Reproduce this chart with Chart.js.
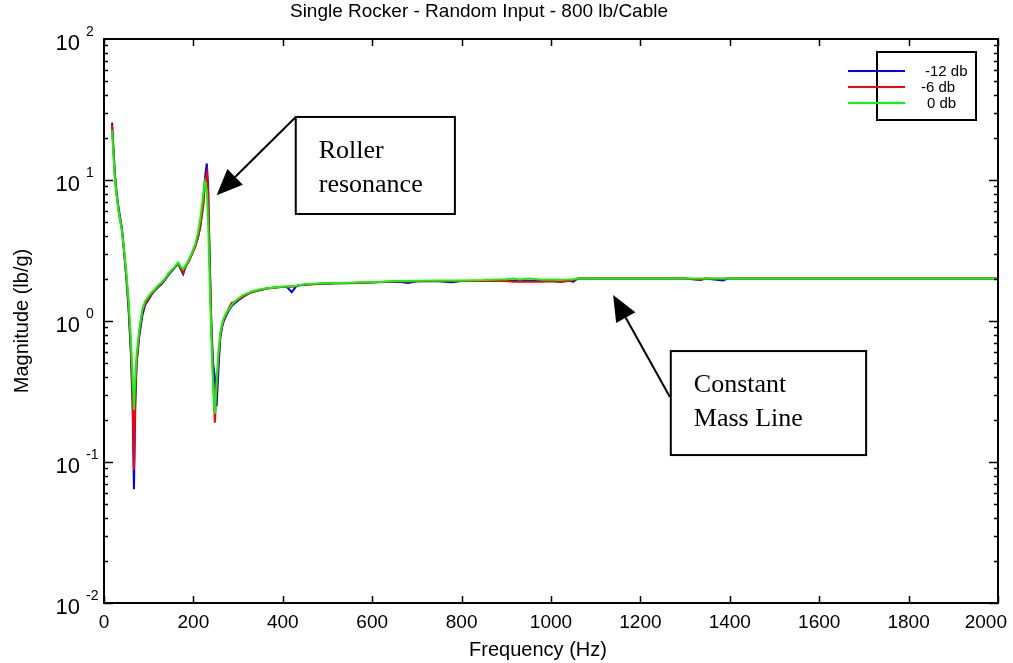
<!DOCTYPE html>
<html><head><meta charset="utf-8">
<script src="https://cdn.jsdelivr.net/npm/chart.js@4"></script>
<style>html,body{margin:0;padding:0;background:#fff}#wrap{width:1013px;height:663px}</style>
</head><body><div id="wrap"><canvas id="c" width="1013" height="663"></canvas></div>
<script>
const chartTitle = "Single Rocker - Random Input - 800 lb/Cable";
const xTitle = "Frequency (Hz)";
const yTitle = "Magnitude (lb/g)";
const seriesLabels = ["-12 db", "-6 db", "0 db"];
const seriesColors = ["#0000ff", "#ff0000", "#00ff00"];
const xTickValues = [0,200,400,600,800,1000,1200,1400,1600,1800,2000];
const yExponents = [2, 1, 0, -1, -2];

const freq = [18,24,28,33,40,44,50,55,60,64,67,70,73,79,86,92,100,107,115,122,129,136,143,151,158,166,171,177,183,189,196,204,210,215,219,222,226,230,233,236,240,244,248,252,256,260,264,268,274,280,286,293,300,308,316,323,330,340,350,364,380,395,409,420,430,438,450,470,490,520,550,580,620,660,680,700,740,778,800,850,900,915,930,950,980,1000,1020,1040,1050,1060,1100,1150,1200,1300,1335,1345,1385,1395,1450,1500,1600,1700,1800,1900,2000];

const minus12db = [25.5,11.5,8.2,6.2,4.6,3.4,2.0,1.2,0.6,0.25,0.064,0.25,0.5,0.78,1.1,1.3,1.42,1.55,1.66,1.75,1.83,1.95,2.1,2.25,2.38,2.55,2.35,2.15,2.45,2.65,2.95,3.4,3.9,4.6,5.8,6.8,10.5,13.1,9,3.2,1.0,0.5,0.4,0.25,0.45,0.75,0.9,1.0,1.1,1.2,1.28,1.34,1.4,1.46,1.52,1.56,1.6,1.63,1.66,1.7,1.72,1.74,1.75,1.6,1.76,1.79,1.81,1.83,1.84,1.85,1.86,1.87,1.89,1.9,1.86,1.91,1.92,1.88,1.92,1.92,1.93,1.93,1.93,1.93,1.93,1.93,1.9,1.93,1.9,2.0,2.0,2.0,2.0,2.0,1.95,2.0,1.94,2.0,2.0,2.0,2.0,2.0,2.0,2.0,2.0];
const minus6db = [24.5,11,8,6,4.4,3.3,2.1,1.3,0.65,0.3,0.088,0.3,0.52,0.82,1.18,1.32,1.45,1.57,1.68,1.77,1.85,1.97,2.12,2.28,2.4,2.57,2.4,2.2,2.45,2.62,2.95,3.35,3.9,4.6,5.6,6.5,9.5,11.1,8,3,0.95,0.4,0.19,0.33,0.55,0.78,0.92,1.02,1.12,1.25,1.35,1.36,1.42,1.47,1.52,1.57,1.6,1.63,1.66,1.7,1.72,1.74,1.75,1.75,1.77,1.8,1.81,1.82,1.84,1.85,1.85,1.87,1.89,1.91,1.9,1.91,1.92,1.92,1.92,1.92,1.92,1.9,1.9,1.9,1.9,1.91,1.9,1.92,1.95,2.0,2.0,2.0,2.0,2.0,1.96,2.0,1.99,2.0,2.0,2.0,2.0,2.0,2.0,2.0,2.0];
const zerodb = [22.5,10.5,7.8,5.9,4.4,3.4,2.2,1.4,0.75,0.4,0.234,0.4,0.58,0.88,1.22,1.38,1.5,1.6,1.7,1.8,1.88,2.0,2.15,2.3,2.42,2.6,2.45,2.33,2.5,2.7,3.0,3.5,4.2,5.2,6.6,8.0,9.7,8.5,5,2.2,0.8,0.35,0.22,0.38,0.6,0.82,0.95,1.05,1.15,1.22,1.3,1.38,1.44,1.5,1.55,1.58,1.62,1.65,1.68,1.71,1.73,1.75,1.76,1.77,1.78,1.8,1.82,1.84,1.85,1.86,1.87,1.88,1.9,1.92,1.92,1.93,1.94,1.94,1.94,1.95,1.98,2.0,1.97,2.0,1.96,1.97,1.96,1.97,1.98,2.0,2.0,2.0,2.0,2.0,2.0,2.0,2.0,2.0,2.0,2.0,2.0,2.0,2.0,2.0,2.0];

const seriesValues = [minus12db, minus6db, zerodb];

// annotations anchored in data coordinates (Hz, lb/g)
const noteBoxes = [
  {lines: ["Roller", "resonance"], x0: 429, y0: 28, x1: 785, y1: 5.74, arrowFrom: [429, 28], arrowTo: [252, 7.8]},
  {lines: ["Constant", "Mass Line"], x0: 1268, y0: 0.612, x1: 1705, y1: 0.112, arrowFrom: [1266, 0.289], arrowTo: [1139, 1.53]}
];

const SANS = "'Liberation Sans', Arial, sans-serif";
const SERIF = "'Liberation Serif', 'Times New Roman', serif";

const decorPlugin = {
  id: 'decor',
  afterDatasetsDraw(chart) {
    const ctx = chart.ctx;
    const xs = chart.scales.x, ys = chart.scales.y;
    const a = chart.chartArea;
    ctx.save();
    ctx.strokeStyle = '#000';
    ctx.fillStyle = '#000';
    ctx.lineWidth = 2;
    ctx.strokeRect(a.left, a.top, a.right - a.left, a.bottom - a.top);
    ctx.lineWidth = 1.5;
    xTickValues.forEach(v => {
      const px = Math.round(xs.getPixelForValue(v)) + 0.5;
      ctx.beginPath();
      ctx.moveTo(px, a.bottom); ctx.lineTo(px, a.bottom - 7);
      ctx.moveTo(px, a.top); ctx.lineTo(px, a.top + 7);
      ctx.stroke();
    });
    for (let e = -2; e < 2; e++) {
      for (let m = 1; m <= 9; m++) {
        const v = m * Math.pow(10, e);
        const py = Math.round(ys.getPixelForValue(v)) + 0.5;
        const len = m === 1 ? 9 : 4;
        ctx.beginPath();
        ctx.moveTo(a.left, py); ctx.lineTo(a.left + len, py);
        ctx.moveTo(a.right, py); ctx.lineTo(a.right - len, py);
        ctx.stroke();
      }
    }
    // x tick labels (last one kept inside the canvas)
    ctx.font = '19px ' + SANS;
    ctx.textBaseline = 'middle';
    xTickValues.forEach(v => {
      const s = String(v);
      const w = ctx.measureText(s).width;
      let cx = xs.getPixelForValue(v);
      if (cx + w / 2 > chart.width - 6) cx = chart.width - 6 - w / 2;
      ctx.textAlign = 'center';
      ctx.fillText(s, cx, a.bottom + 20);
    });
    // x axis title
    ctx.font = '20px ' + SANS;
    ctx.textAlign = 'center';
    ctx.fillText(xTitle, 538, 650);
    // y tick labels 10^n
    yExponents.forEach(e => {
      const py = ys.getPixelForValue(Math.pow(10, e));
      ctx.font = '22px ' + SANS;
      ctx.textAlign = 'right';
      ctx.textBaseline = 'middle';
      ctx.fillText('10', 80, py + 5);
      ctx.font = '14px ' + SANS;
      ctx.textAlign = 'left';
      ctx.fillText(String(e), 86, py - 7);
    });
    ctx.font = '19px ' + SANS;
    ctx.textAlign = 'center';
    ctx.textBaseline = 'middle';
    ctx.fillText(chartTitle, 479, 12);

    noteBoxes.forEach(n => {
      const bx0 = xs.getPixelForValue(n.x0), by0 = ys.getPixelForValue(n.y0);
      const bx1 = xs.getPixelForValue(n.x1), by1 = ys.getPixelForValue(n.y1);
      ctx.fillStyle = '#fff';
      ctx.fillRect(bx0, by0, bx1 - bx0, by1 - by0);
      ctx.strokeStyle = '#000';
      ctx.lineWidth = 2;
      ctx.strokeRect(bx0, by0, bx1 - bx0, by1 - by0);
      ctx.fillStyle = '#000';
      ctx.font = '26px ' + SERIF;
      ctx.textAlign = 'left';
      ctx.textBaseline = 'middle';
      n.lines.forEach((t, i) => ctx.fillText(t, bx0 + 23, by0 + 34 + i * 34));
      const fx = xs.getPixelForValue(n.arrowFrom[0]), fy = ys.getPixelForValue(n.arrowFrom[1]);
      const tx = xs.getPixelForValue(n.arrowTo[0]), ty = ys.getPixelForValue(n.arrowTo[1]);
      const ang = Math.atan2(ty - fy, tx - fx);
      const headL = 26, headW = 11;
      const bxh = tx - headL * Math.cos(ang), byh = ty - headL * Math.sin(ang);
      ctx.lineWidth = 2;
      ctx.beginPath(); ctx.moveTo(fx, fy); ctx.lineTo(bxh, byh); ctx.stroke();
      ctx.beginPath();
      ctx.moveTo(tx, ty);
      ctx.lineTo(bxh + headW * Math.sin(ang), byh - headW * Math.cos(ang));
      ctx.lineTo(bxh - headW * Math.sin(ang), byh + headW * Math.cos(ang));
      ctx.closePath(); ctx.fill();
    });

    // legend frame, then lines and labels
    const lx0 = 877, ly0 = 52, lx1 = 976, ly1 = 120;
    ctx.fillStyle = '#fff';
    ctx.fillRect(lx0, ly0, lx1 - lx0, ly1 - ly0);
    ctx.strokeStyle = '#000';
    ctx.lineWidth = 2;
    ctx.strokeRect(lx0, ly0, lx1 - lx0, ly1 - ly0);
    const textX = [925, 921, 927];
    const rowY = [71, 87, 103];
    seriesLabels.forEach((lab, i) => {
      ctx.strokeStyle = seriesColors[i];
      ctx.lineWidth = 2;
      ctx.beginPath(); ctx.moveTo(848, rowY[i]); ctx.lineTo(905, rowY[i]); ctx.stroke();
      ctx.fillStyle = '#000';
      ctx.font = '15px ' + SANS;
      ctx.textAlign = 'left';
      ctx.textBaseline = 'middle';
      ctx.fillText(lab, textX[i], rowY[i] + 1);
    });
    ctx.restore();
  }
};

const datasets = seriesValues.map((vals, i) => ({
  label: seriesLabels[i],
  data: freq.map((f, j) => ({x: f, y: vals[j]})),
  borderColor: seriesColors[i],
  backgroundColor: seriesColors[i],
  borderWidth: 2,
  pointRadius: 0,
  tension: 0,
  fill: false,
  order: 2 - i
}));

new Chart(document.getElementById('c'), {
  type: 'line',
  data: {datasets},
  options: {
    responsive: false,
    animation: false,
    devicePixelRatio: 1,
    layout: {padding: {top: 39, right: 15, left: 0, bottom: 0}},
    plugins: {legend: {display: false}, tooltip: {enabled: false}, title: {display: false}},
    scales: {
      x: {
        type: 'linear', min: 0, max: 2000,
        afterBuildTicks: s => { s.ticks = xTickValues.map(v => ({value: v})); },
        ticks: {display: false},
        grid: {display: false, drawTicks: false},
        border: {display: false},
        title: {display: false},
        afterFit: s => { s.height = 60; s.paddingLeft = 0; s.paddingRight = 0; }
      },
      y: {
        type: 'logarithmic', min: 0.01, max: 100,
        ticks: {display: false},
        grid: {display: false, drawTicks: false},
        border: {display: false},
        title: {display: true, text: yTitle, font: {size: 20, family: SANS}, color: '#000', padding: {top: 10, bottom: 0}},
        afterFit: s => { s.width = 104; s.paddingTop = 0; s.paddingBottom = 0; }
      }
    }
  },
  plugins: [decorPlugin]
});
</script>
</body></html>
